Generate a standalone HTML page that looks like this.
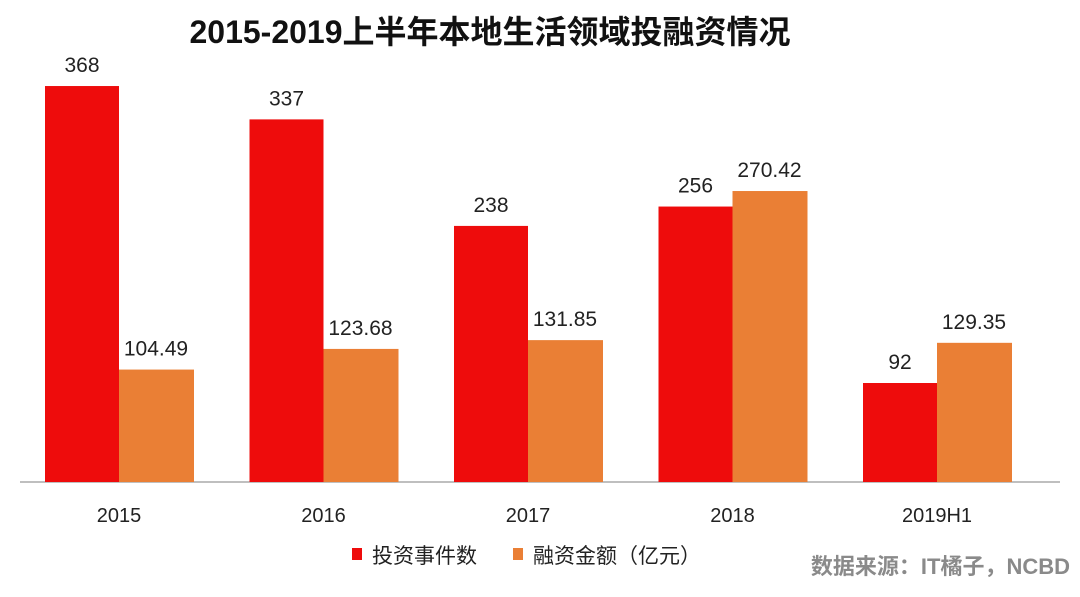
<!DOCTYPE html>
<html><head><meta charset="utf-8">
<style>
body{margin:0;width:1080px;height:592px;background:#fff;overflow:hidden;font-family:"Liberation Sans","Noto Sans CJK SC",sans-serif;}
svg text{font-family:"Liberation Sans","Noto Sans CJK SC",sans-serif;}
</style></head>
<body>
<svg id="chart" width="1080" height="592">
<text x="490" y="43" text-anchor="middle" font-size="32" font-weight="bold" fill="#111">2015-2019上半年本地生活领域投融资情况</text>
<line x1="20" y1="482" x2="1060" y2="482" stroke="#aaa" stroke-width="1.5"/>
<g id="bars"></g>
<g>
<rect x="352" y="548" width="10" height="12" fill="#ee0c0c"/>
<text x="372" y="563" font-size="21" fill="#222">投资事件数</text>
<rect x="513" y="548" width="10" height="12" fill="#ea7f35"/>
<text x="533" y="563" font-size="21" fill="#222">融资金额（亿元）</text>
</g>
<text x="1070" y="574" text-anchor="end" font-size="22" font-weight="bold" fill="#8a8a8a">数据来源：IT橘子，NCBD</text>
</svg>
<script>
const categories=["2015","2016","2017","2018","2019H1"];
const counts=[368,337,238,256,92];
const amounts=[104.49,123.68,131.85,270.42,129.35];
const amountLabels=["104.49","123.68","131.85","270.42","129.35"];
const base=482, scale=1.076, x0=45, step=204.5, bw=74;
const yv=v=>base-v*scale;
const g=document.getElementById('bars');
const NS="http://www.w3.org/2000/svg";
function mk(tag,attrs,txt){const e=document.createElementNS(NS,tag);for(const k in attrs)e.setAttribute(k,attrs[k]);if(txt!==undefined)e.textContent=txt;g.appendChild(e);return e;}
categories.forEach((c,i)=>{
  const x=x0+i*step;
  const r=mk('rect',{x:x,y:yv(counts[i]),width:bw,height:counts[i]*scale,fill:'#ee0c0c'});
  
  
  const o=mk('rect',{x:x+bw,y:yv(amounts[i]),width:bw+1,height:amounts[i]*scale,fill:'#ea7f35'});
  
  
  const t1=mk('text',{x:x+bw/2,y:yv(counts[i])-14,'text-anchor':'middle','font-size':21,fill:'#222'},String(counts[i]));
  
  
  const t2=mk('text',{x:x+bw*1.5,y:yv(amounts[i])-14,'text-anchor':'middle','font-size':21,fill:'#222'},amountLabels[i]);
  
  
  const l=mk('text',{x:x+bw,y:522,'text-anchor':'middle','font-size':20,fill:'#222'},c);
  
  
});
</script>
</body></html>
